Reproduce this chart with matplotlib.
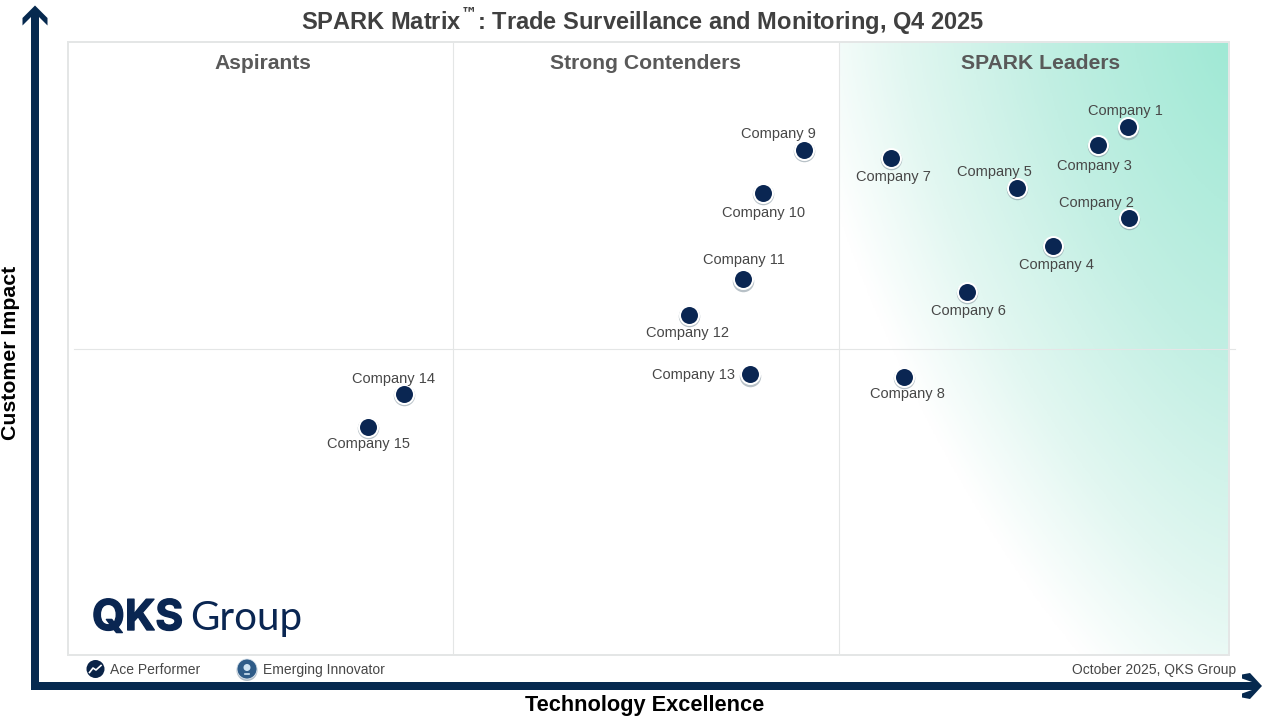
import numpy as np
import matplotlib
matplotlib.use("Agg")
import matplotlib.pyplot as plt
import matplotlib.patheffects as pe
from matplotlib.colors import LinearSegmentedColormap
from matplotlib.patches import Polygon, Circle

plt.rcParams['font.family'] = ['Liberation Sans', 'DejaVu Sans']

companies = ['Company 1', 'Company 2', 'Company 3', 'Company 4', 'Company 5',
             'Company 6', 'Company 7', 'Company 8', 'Company 9', 'Company 10',
             'Company 11', 'Company 12', 'Company 13', 'Company 14', 'Company 15']
technology = [91.3, 91.4, 88.7, 84.8, 81.7, 77.4, 70.9, 72.0, 63.4, 59.9, 58.1, 53.5, 58.7, 28.9, 25.8]
customer = [86.1, 71.3, 83.2, 66.7, 76.2, 59.2, 81.1, 45.4, 82.4, 75.4, 61.3, 55.5, 45.8, 42.6, 37.2]
quadrants = ['Aspirants', 'Strong Contenders', 'SPARK Leaders']
x_dividers = [33.16, 66.41]
y_divider = 50

W, H = 1280, 720
NAVY = '#0A2652'
ARROW = '#06294F'
TXT = '#474747'
GRID = '#E4E6E6'
PX = 0.72

# label offset from the dot, pixels (right, up)
label_dx = [-3, -33, -3, 4, -22, 2, 2, 4, -26, 0, 1, -2, -56, -10, 1]
label_dy = [16, 15, -21, -19, 16, -19, -19, -17, 16, -20, 19, -18, -1, 15, -17]

fig = plt.figure(figsize=(W / 100, H / 100), dpi=100, facecolor='white')

# plot area
L, R, T, B = 68, 1229, 42, 655
ax = fig.add_axes([L / W, 1 - B / H, (R - L) / W, (B - T) / H])
ax.set_xticks([])
ax.set_yticks([])
for s in ax.spines.values():
    s.set_color(GRID)
    s.set_linewidth(2 * PX)

# gradient in the leaders quadrant
xg = np.linspace(x_dividers[1], 100, 300)
yg = np.linspace(0, 100, 400)
XX, YY = np.meshgrid(xg, yg)
p = 1.4
dist = (((100 - XX) * (R - L) / 100 / 470) ** p + ((100 - YY) * (B - T) / 100 / 800) ** p) ** (1 / p)
cmap = LinearSegmentedColormap.from_list('g', [(0, '#A0E9D5'), (0.4, '#C2EFE3'), (0.7, '#E2F7F1'),
                                               (0.92, '#FFFFFF'), (1, '#FFFFFF')])
ax.imshow(np.clip(dist, 0, 1), extent=[x_dividers[1], 100, 0, 100], origin='lower', cmap=cmap,
          vmin=0, vmax=1, aspect='auto', zorder=0)
ax.set_xlim(0, 100)
ax.set_ylim(0, 100)

for xd in x_dividers:
    ax.axvline(xd, color=GRID, lw=1.1 * PX, zorder=1)

for name, xc in zip(quadrants, [262.5, 646, 1040.5]):
    fig.text(xc / W, 1 - 63.6 / H, name, ha='center', va='center', fontsize=15.2,
             fontweight='bold', color='#595959')

# points: shadow, white ring, dot
ax.scatter(technology, [c - 0.22 for c in customer], s=(21.5 * PX) ** 2, color='#7F8F9A', alpha=0.55,
           linewidths=0, zorder=3)
ax.scatter(technology, customer, s=(19 * PX) ** 2, color=NAVY, edgecolors='white',
           linewidths=2 * PX, zorder=4)
for name, x, y, dx, dy in zip(companies, technology, customer, label_dx, label_dy):
    ax.annotate(name, (x, y), xytext=(dx * PX, dy * PX), textcoords='offset points',
                ha='center', va='center', fontsize=10.5, color=TXT, zorder=5)

# overlay in pixel units for frame furniture
ov = fig.add_axes([0, 0, 1, 1], facecolor='none')
ov.set_xlim(0, W)
ov.set_ylim(H, 0)
ov.axis('off')
ov.plot([74, 1235], [349, 349], color=GRID, lw=1.1 * PX, zorder=1)

# axis arrows
ov.add_patch(Polygon([(31, 690), (31, 17), (22.5, 25.5), (22.5, 18), (35, 5.5), (47.5, 18), (47.5, 25.5),
                      (39, 17), (39, 682), (1252, 682), (1242, 678.5), (1242, 674.5), (1250, 673), (1262, 686),
                      (1250, 699), (1242, 697.5), (1242, 693.5), (1252, 690)],
                     closed=True, facecolor=ARROW, edgecolor='none', zorder=2))

fig.text(642.5 / W, 1 - 21 / H, 'SPARK Matrix$^{\\mathbf{\u2122}}$: Trade Surveillance and Monitoring, Q4 2025',
         ha='center', va='center', fontsize=17, fontweight='bold', color='#404040', math_fontfamily='dejavusans')
fig.text(11 / W, 1 - 353 / H, 'Customer Impact', rotation=90, ha='center', va='center',
         fontsize=15.3, fontweight='bold', color='black')
fig.text(645 / W, 1 - 705 / H, 'Technology Excellence', ha='center', va='center',
         fontsize=15.7, fontweight='bold', color='black')

# footer legend
ov.add_patch(Circle((95.5, 669), 9, facecolor='#0A2347', edgecolor='none', zorder=3))
ov.plot([89.5, 93, 96, 101], [672.5, 668, 670, 665.5], color='white', lw=1.2, zorder=4)
ov.add_patch(Circle((247, 670.5), 10.5, facecolor='#7F93A5', edgecolor='none', alpha=0.6, zorder=3))
ov.add_patch(Circle((247, 669), 10, facecolor='#2F5C88', edgecolor='#DDE6EE', lw=0.6, zorder=3))
ov.add_patch(Circle((247, 667.5), 3.5, facecolor='#CFE3F2', edgecolor='none', zorder=4))
ov.plot([245, 249], [673.5, 673.5], color='#CFE3F2', lw=1.2, zorder=4)
fig.text(110 / W, 1 - 670 / H, 'Ace Performer', ha='left', va='center', fontsize=10, color=TXT)
fig.text(263 / W, 1 - 670 / H, 'Emerging Innovator', ha='left', va='center', fontsize=10, color=TXT)
fig.text(1236 / W, 1 - 670 / H, 'October 2025, QKS Group', ha='right', va='center', fontsize=10, color=TXT)

# logo
qks = fig.text(92 / W, 1 - 630 / H, 'QKS', ha='left', va='baseline', fontsize=30.5, fontweight='bold',
               family=['Inter', 'DejaVu Sans'], color=NAVY)
qks.set_path_effects([pe.withStroke(linewidth=1.0, foreground=NAVY)])
fig.text(190 / W, 1 - 630 / H, 'Group', ha='left', va='baseline', fontsize=29, fontweight='normal',
         family=['Lato', 'DejaVu Sans'], color=NAVY)

fig.savefig('out.png', dpi=100, facecolor='white')
